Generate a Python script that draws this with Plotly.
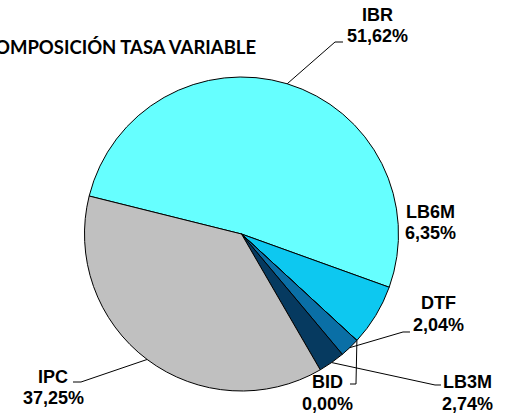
import math
import plotly.graph_objects as go

# ---- data ----
labels = ["IBR", "LB6M", "BID", "DTF", "LB3M", "IPC"]
values = [51.62, 6.35, 0.00, 2.04, 2.74, 37.25]
colors = ["#66FFFF", "#0DC8F0", "#1A1A80", "#0A6FA6", "#063A60", "#C0C0C0"]
title_text = "COMPOSICIÓN TASA VARIABLE"

# ---- layout geometry (pixels) ----
W, H = 512, 414
CX, CY, R = 241.5, 234.0, 157.0
ROT = -76.0  # degrees clockwise from 12 o'clock

def px(x):
    return x / W

def py(y):
    return 1 - y / H

# label placement: (name_center_x, name_center_y, pct_center_y, leader elbow points or None)
placement = {
    "IBR": (377, 15, 36, [(335, 42), (343, 42)]),
    "LB6M": (430, 212, 233, None),
    "DTF": (438, 303, 325, [(403, 332), (410, 332)]),
    "BID": (327, 382, 404, [(356, 384), (350, 384)]),
    "LB3M": (467, 382, 404, [(435, 385), (441, 385)]),
    "IPC": (53, 377, 398, [(81, 382), (73, 382)]),
}

total = sum(values)
angle = ROT
mid_angles = {}
for lab, v in zip(labels, values):
    span = v / total * 360
    mid_angles[lab] = angle + span / 2
    angle += span

def on_circle(a_deg, r=R):
    a = math.radians(a_deg)
    return CX + r * math.sin(a), CY - r * math.cos(a)

fig = go.Figure()
fig.add_trace(go.Pie(
    labels=labels,
    values=values,
    sort=False,
    direction="clockwise",
    rotation=ROT,
    marker=dict(colors=colors, line=dict(color="#000000", width=1)),
    textinfo="none",
    hoverinfo="label+percent",
    showlegend=False,
    domain=dict(x=[px(CX - R), px(CX + R)], y=[py(CY + R), py(CY - R)]),
))

annotations = []
shapes = []
font = dict(family="Liberation Sans, Arial, sans-serif", size=18, color="#000000")
for lab, v in zip(labels, values):
    nx, ny, pyy, elbow = placement[lab]
    pct = f"{v:.2f}".replace(".", ",") + "%"
    annotations.append(dict(x=px(nx), y=py(ny), xref="paper", yref="paper", text=f"<b>{lab}</b>",
                            showarrow=False, xanchor="center", yanchor="middle", font=font))
    annotations.append(dict(x=px(nx), y=py(pyy), xref="paper", yref="paper", text=f"<b>{pct}</b>",
                            showarrow=False, xanchor="center", yanchor="middle", font=font))
    if elbow:
        ax, ay = on_circle(mid_angles[lab])
        pts = [(ax, ay)] + elbow
        path = "M " + " L ".join(f"{px(x):.5f},{py(y):.5f}" for x, y in pts)
        shapes.append(dict(type="path", path=path, xref="paper", yref="paper",
                           line=dict(color="#000000", width=1)))

annotations.append(dict(x=px(258), y=py(47), xref="paper", yref="paper", text=f"<b>{title_text}</b>",
                        showarrow=False, xanchor="right", yanchor="middle",
                        font=dict(family="Lato, 'Open Sans', sans-serif", size=18.5, color="#000000")))

fig.update_layout(
    width=W, height=H,
    margin=dict(l=0, r=0, t=0, b=0),
    paper_bgcolor="#FFFFFF",
    plot_bgcolor="#FFFFFF",
    annotations=annotations,
    shapes=shapes,
)

fig.write_html("out.html", config={"displayModeBar": False},
               post_script="document.body.style.margin='0px';document.body.style.overflow='hidden';")
